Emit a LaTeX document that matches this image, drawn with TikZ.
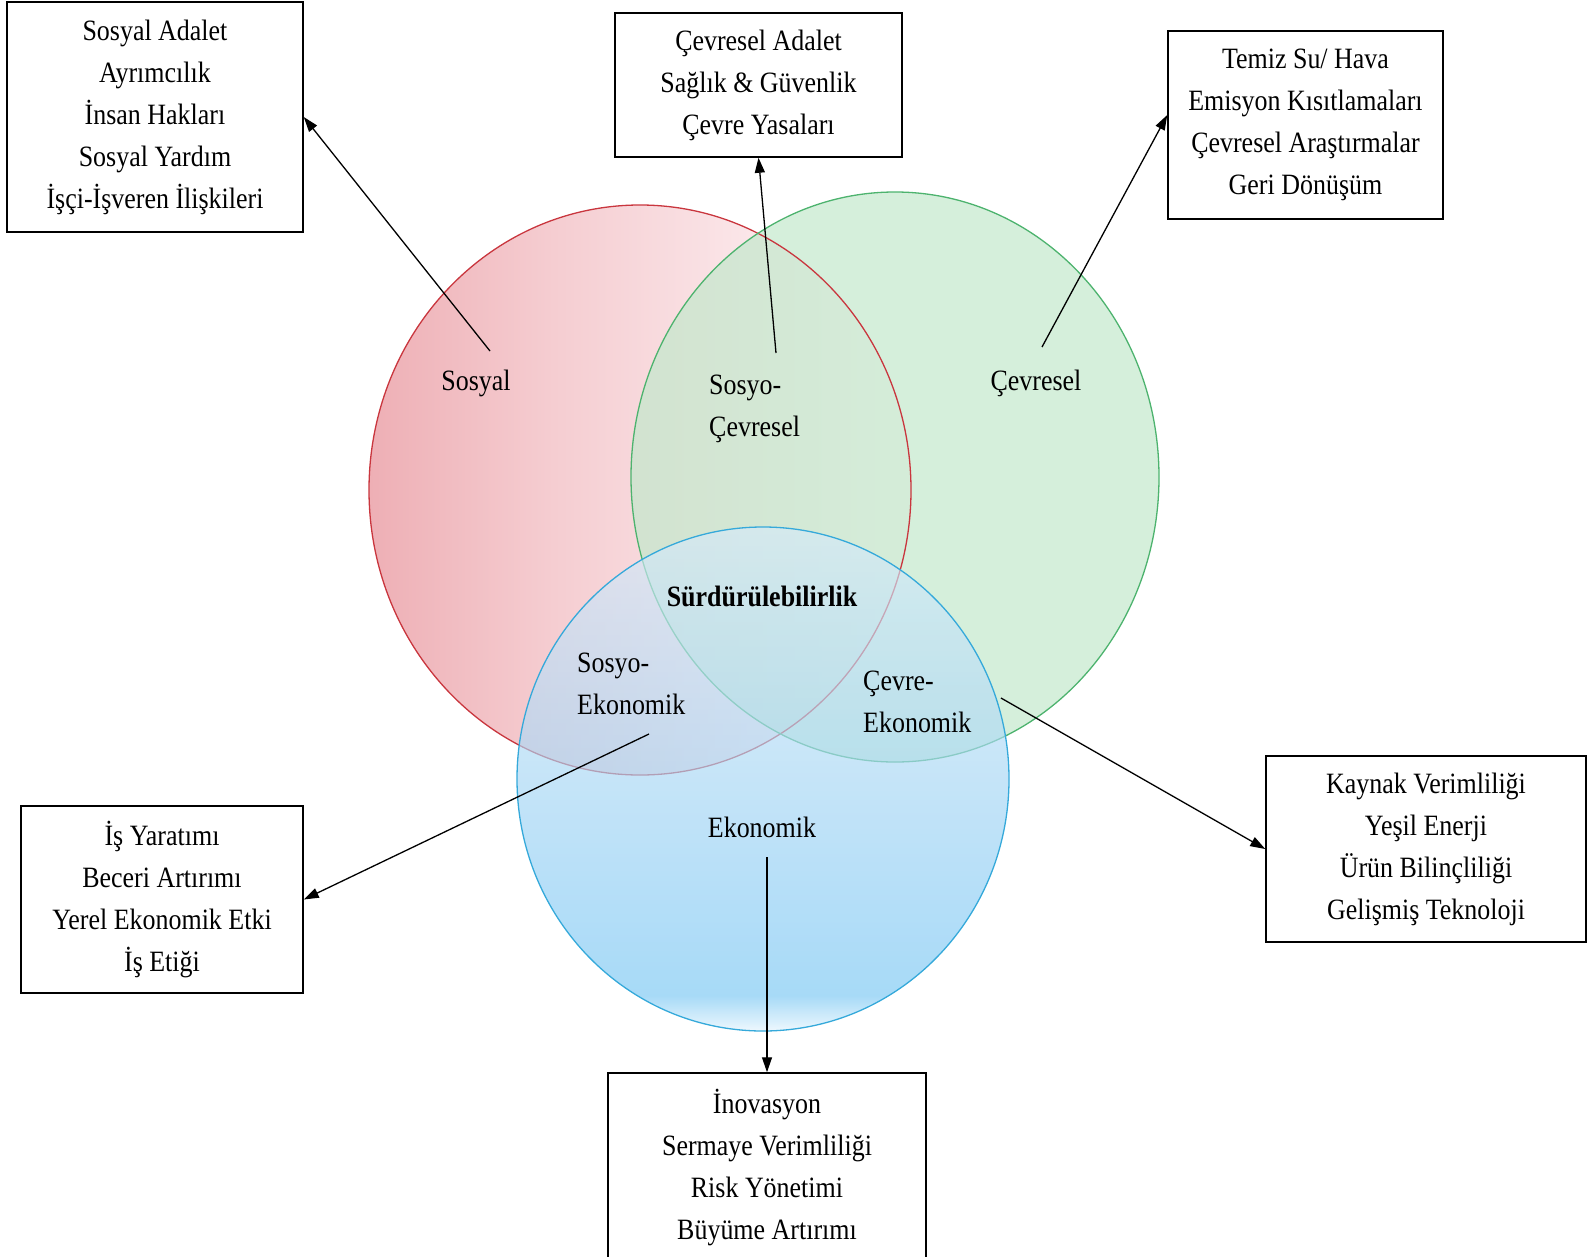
\documentclass[tikz,border=0pt]{standalone}
\usepackage{fontspec}
\setmainfont[FakeStretch=0.88]{Liberation Serif}
\usetikzlibrary{arrows.meta,shadings}
\definecolor{redA}{HTML}{EEAFB5}
\definecolor{redB}{HTML}{F5CDD1}
\definecolor{redC}{HTML}{FAE3E6}
\definecolor{redD}{HTML}{FEF6F7}
\definecolor{redLine}{HTML}{C9363E}
\definecolor{greenFill}{HTML}{C3E8CC}
\definecolor{greenLine}{HTML}{4DB36E}
\definecolor{blueG}{HTML}{E4F4FD}
\definecolor{blueB}{HTML}{78C6F3}
\definecolor{blueM}{HTML}{A6D6F5}
\definecolor{blueT}{HTML}{D6EAF9}
\definecolor{blueLine}{HTML}{35A9DA}
\pgfdeclarehorizontalshading{redsh}{100bp}{color(0bp)=(redA); color(25bp)=(redA); color(42bp)=(redB); color(58bp)=(redC); color(72bp)=(redD); color(100bp)=(redD)}
\pgfdeclareverticalshading{bluesh}{100bp}{color(0bp)=(blueG); color(25bp)=(blueG); color(28.5bp)=(blueB); color(50bp)=(blueM); color(75bp)=(blueT); color(100bp)=(blueT)}
\tikzset{
  txt/.style={font=\fontsize{29.5}{42}\selectfont, inner sep=0pt, text=black},
  boldtxt/.style={font=\fontsize{29.5}{42}\selectfont\bfseries, inner sep=0pt, text=black},
  boxn/.style={txt, draw=black, line width=1.5pt, align=center},
  twoline/.style={txt, align=left, anchor=west},
  conn/.style={line width=1.3pt, draw=black, -{Triangle[length=15pt,width=10pt]}},
  ring/.style={line width=1.3pt}
}
\begin{document}
\begin{tikzpicture}[x=1pt,y=-1pt]
\useasboundingbox (0,0) rectangle (1588,1256);
% circles
\path[shade, shading=redsh] (640,490) ellipse [x radius=271pt, y radius=285pt];
\path[fill=greenFill, fill opacity=0.7] (895,477) ellipse [x radius=264pt, y radius=285pt];
\draw[ring, draw=redLine] (640,490) ellipse [x radius=271pt, y radius=285pt];
\draw[ring, draw=greenLine] (895,477) ellipse [x radius=264pt, y radius=285pt];
\path[shade, shading=bluesh, fill opacity=0.65] (763,779) ellipse [x radius=246pt, y radius=252pt];
\draw[ring, draw=blueLine] (763,779) ellipse [x radius=246pt, y radius=252pt];
% labels in circles
\node[txt, anchor=base] (sosyal) at (476,390) {Sosyal};
\node[txt, anchor=base] (cevresel) at (1036,390) {Çevresel};
\node[twoline] (socev) at (709,409) {Sosyo-\\Çevresel};
\node[boldtxt, anchor=base] (surd) at (762,606) {Sürdürülebilirlik};
\node[twoline] (soeko) at (577,684) {Sosyo-\\Ekonomik};
\node[twoline] (ceveko) at (863,702) {Çevre-\\Ekonomik};
\node[txt, anchor=base] (ekonomik) at (762,837) {Ekonomik};
% boxes
\node[boxn, minimum width=296pt, minimum height=230pt] (box1) at (155,117)
  {Sosyal Adalet\\Ayrımcılık\\İnsan Hakları\\Sosyal Yardım\\İşçi-İşveren İlişkileri};
\node[boxn, minimum width=287pt, minimum height=144pt] (box2) at (758.5,85)
  {Çevresel Adalet\\Sağlık \& Güvenlik\\Çevre Yasaları};
\node[boxn, minimum width=275pt, minimum height=188pt] (box3) at (1305.5,125)
  {Temiz Su/ Hava\\Emisyon Kısıtlamaları\\Çevresel Araştırmalar\\Geri Dönüşüm};
\node[boxn, minimum width=282pt, minimum height=187pt] (box4) at (162,899.5)
  {İş Yaratımı\\Beceri Artırımı\\Yerel Ekonomik Etki\\İş Etiği};
\node[boxn, minimum width=320pt, minimum height=186pt] (box5) at (1426,849)
  {Kaynak Verimliliği\\Yeşil Enerji\\Ürün Bilinçliliği\\Gelişmiş Teknoloji};
\node[boxn, minimum width=318pt, minimum height=189pt] (box6) at (767,1167.5)
  {İnovasyon\\Sermaye Verimliliği\\Risk Yönetimi\\Büyüme Artırımı};
% connector start points
\coordinate (a1s) at (490,351);
\coordinate (a2s) at (776,353);
\coordinate (a3s) at (1042,347);
\coordinate (a4s) at (649,734);
\coordinate (a5s) at (1001,698);
\coordinate (a6s) at (767,857);
% connectors
\draw[conn] (a1s) -- (box1.east);
\draw[conn] (a2s) -- (box2.south);
\draw[conn] (a3s) -- ([yshift=10pt]box3.west);
\draw[conn] (a4s) -- (box4.east);
\draw[conn] (a5s) -- (box5.west);
\draw[conn] (a6s) -- (box6.north);
\end{tikzpicture}
\end{document}
